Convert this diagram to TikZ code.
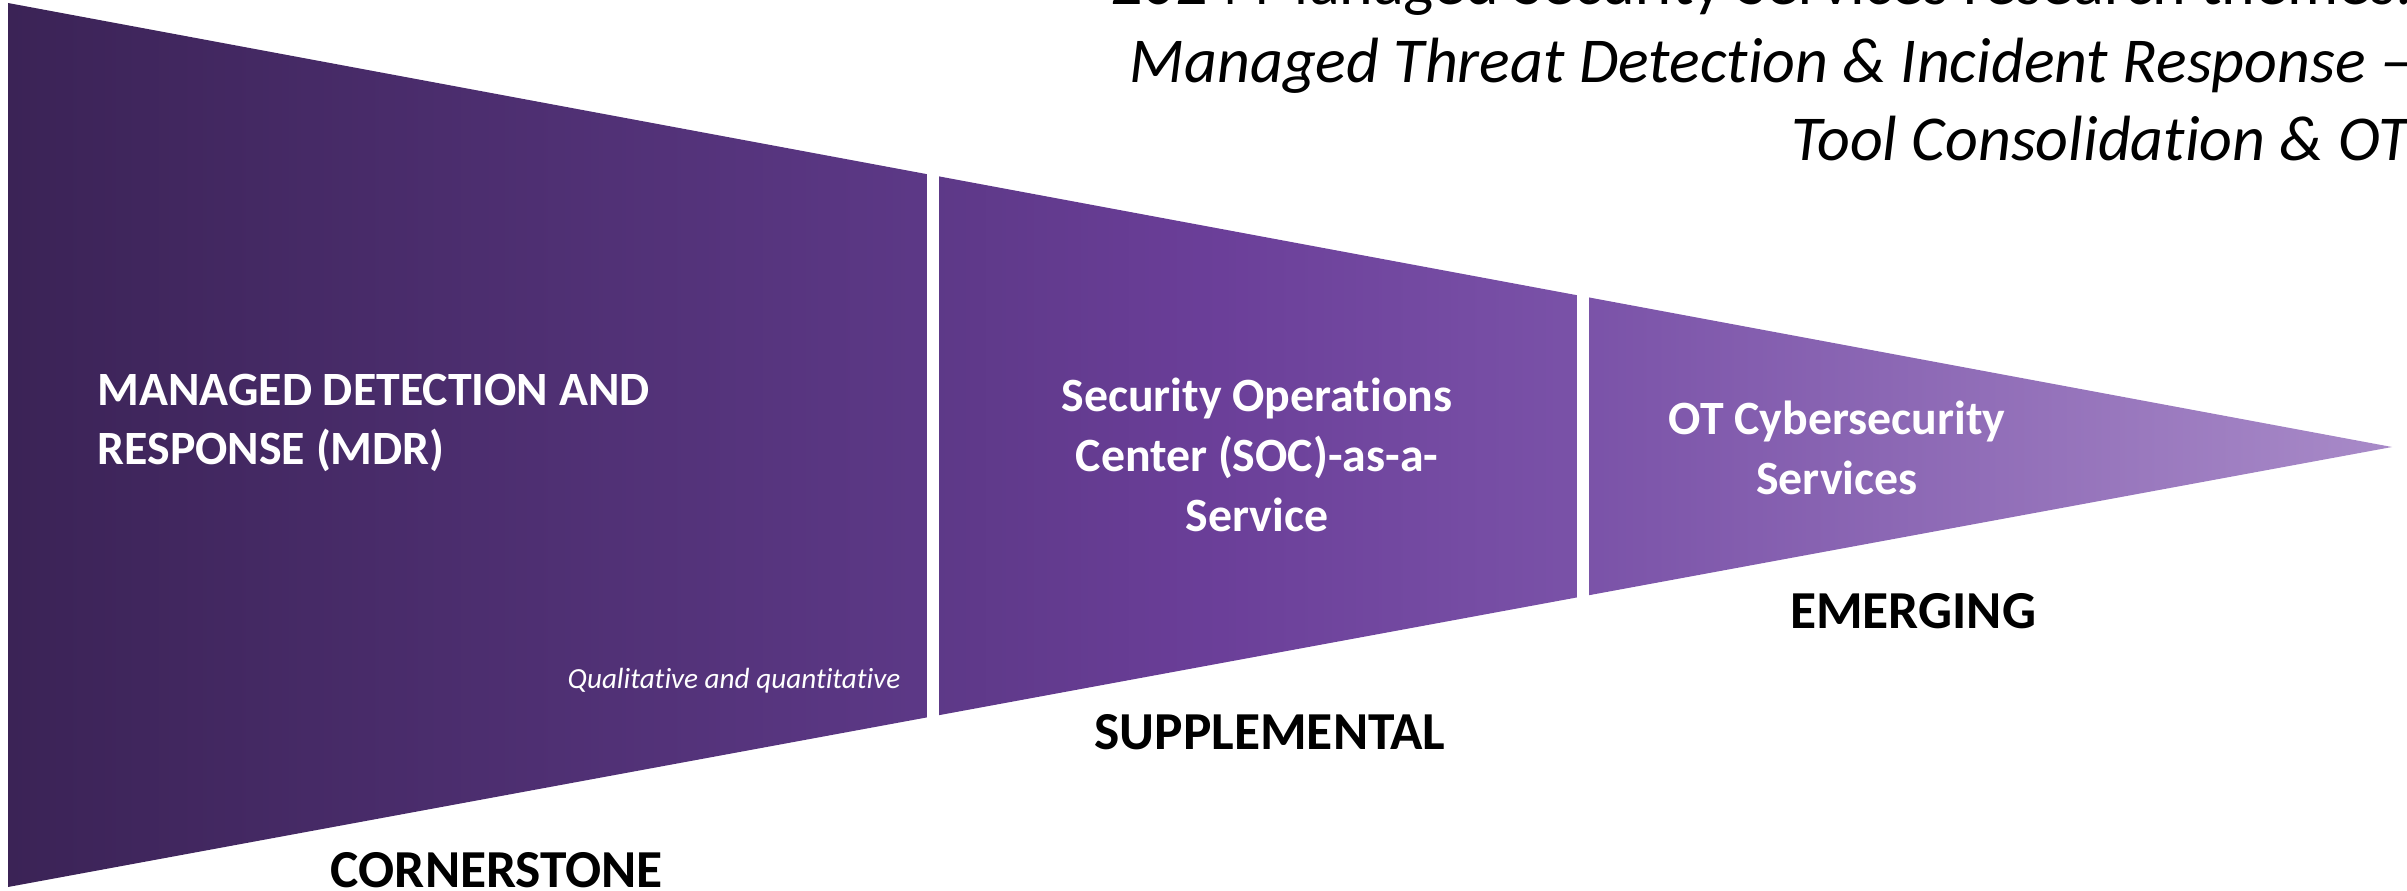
\documentclass[tikz,border=0pt]{standalone}
\usepackage{fontspec}
\setmainfont{Carlito}[Ligatures=NoCommon]
\usepackage{tikz}
\usepackage{xcolor}

\definecolor{funneldark}{RGB}{59,35,86}
\definecolor{funnelmid}{RGB}{92,56,134}
\definecolor{funnelvio}{RGB}{106,62,152}
\definecolor{funnelmidtwo}{RGB}{122,82,168}
\definecolor{funnellight}{RGB}{168,138,200}

\pgfdeclarehorizontalshading{funnel}{100bp}{color(0bp)=(funneldark); color(25bp)=(funneldark); color(44bp)=(funnelmid); color(50bp)=(funnelvio); color(58bp)=(funnelmidtwo); color(75bp)=(funnellight); color(100bp)=(funnellight)}

\begin{document}
\begin{tikzpicture}[x=0.1mm, y=-0.1mm,
  inside/.style={text=white, font=\bfseries\fontsize{13.6}{17}\selectfont, inner sep=0pt},
  stage/.style={text=black, font=\bfseries\fontsize{15.2}{18}\selectfont, inner sep=0pt}]

\useasboundingbox (0,0) rectangle (2407,891);

% funnel, one triangle cut in three by white gaps
\shade[shading=funnel] (8,3) -- (2392,447) -- (8,887) -- cycle;
\fill[white] (927,0) rectangle (939,891);
\fill[white] (1577,0) rectangle (1589,891);

% texts inside the funnel
\node[inside, align=left, anchor=west] (mdr) at (97,423) {MANAGED DETECTION AND\\RESPONSE (MDR)};
\node[inside, align=center] (soc) at (1257,455) {Security Operations\\Center (SOC)-as-a-\\Service};
\node[inside, align=center] (ot) at (1837,448) {OT Cybersecurity\\Services};
\node[text=white, font=\itshape\fontsize{8.3}{10}\selectfont, anchor=east, inner sep=0pt] (qual) at (901,681) {Qualitative and quantitative};

% stage names under the funnel
\node[stage] (cornerstone) at (497,870) {CORNERSTONE};
\node[stage] (supplemental) at (1270,732) {SUPPLEMENTAL};
\node[stage] (emerging) at (1913,611) {EMERGING};

% title, top right
\node[font=\fontsize{18.2}{22.2}\selectfont, align=right, anchor=east, inner sep=0pt] (title) at (2413,61)
  {2024 Managed Security Services research themes:\\\textit{Managed Threat Detection \& Incident Response --}\\\textit{Tool Consolidation \& OT}};

\end{tikzpicture}
\end{document}
